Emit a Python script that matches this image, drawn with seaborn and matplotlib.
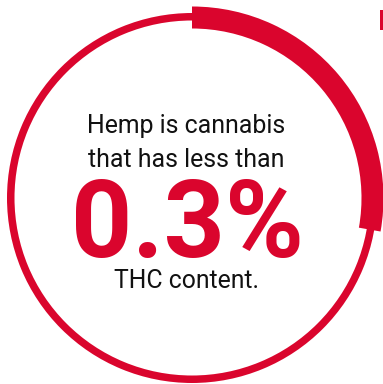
import matplotlib
matplotlib.use("Agg")
import matplotlib.pyplot as plt
from matplotlib.patches import Rectangle
import seaborn as sns

sns.set_theme(style="white")
plt.rcParams["font.family"] = ["Roboto", "DejaVu Sans"]

# data
highlight_share = 0.278          # share of the ring drawn thick
intro_lines = ["Hemp is cannabis", "that has less than"]
headline = "0.3%"
outro_line = "THC content."

red = "#DA052D"
ink = "#111111"

fig = plt.figure(figsize=(3.83, 3.84), dpi=100)
ax = fig.add_axes([0, 0, 1, 1])

center = (192, 186)

# thin full ring
ax.pie([1], radius=185, center=center, colors=[red], startangle=90,
       wedgeprops=dict(width=7.5, linewidth=0))

# thick highlighted arc
ax.pie([highlight_share, 1 - highlight_share], radius=191.5, center=center,
       colors=[red, "none"], startangle=90, counterclock=False,
       wedgeprops=dict(width=22, linewidth=0))

# clipped neighbour mark at the top-right edge
ax.add_patch(Rectangle((380, 354), 5, 20, color=red, lw=0))

tx = 186
ax.text(tx, 251, intro_lines[0], ha="center", va="baseline", fontsize=17.9, color=ink)
ax.text(tx, 217, intro_lines[1], ha="center", va="baseline", fontsize=17.9, color=ink)
ax.text(tx + 1, 127, headline, ha="center", va="baseline", fontsize=77,
        fontweight="bold", color=red)
ax.text(tx, 96, outro_line, ha="center", va="baseline", fontsize=17.8, color=ink)

ax.set_xlim(0, 383)
ax.set_ylim(0, 384)
ax.set_aspect("equal")
ax.axis("off")

fig.savefig("out.png", dpi=100, facecolor="white")
plt.close(fig)
